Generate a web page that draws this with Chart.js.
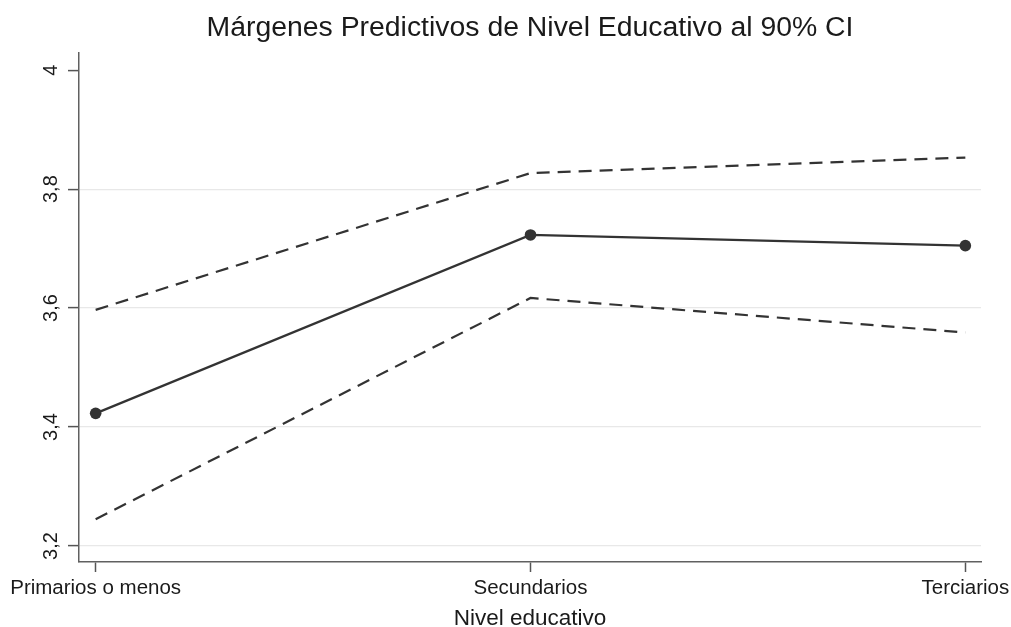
<!DOCTYPE html>
<html><head><meta charset="utf-8">
<script src="https://cdn.jsdelivr.net/npm/chart.js@4"></script>
<style>html,body{margin:0;padding:0;background:#fff}#wrap{width:1011px;height:627px}</style>
</head><body><div id="wrap"><canvas id="c" width="1011" height="627"></canvas></div>
<script>
const categories = ['Primarios o menos', 'Secundarios', 'Terciarios'];
const meanValues = [3.423, 3.723, 3.705];
const upperValues = [3.597, 3.827, 3.853];
const lowerValues = [3.245, 3.617, 3.559];
const yTickValues = [3.2, 3.4, 3.6, 3.8, 4];
const yTickLabels = ['3,2', '3,4', '3,6', '3,8', '4'];
const titleText = 'Márgenes Predictivos de Nivel Educativo al 90% CI';
const xTitleText = 'Nivel educativo';

const FONT = "'Liberation Sans', Arial, sans-serif";
const toPts = arr => arr.map((v, i) => ({x: i, y: v}));
const ink = '#333333';

new Chart(document.getElementById('c'), {
  type: 'line',
  data: {
    datasets: [
      {label: 'Upper', data: toPts(upperValues), borderColor: ink, borderWidth: 2.2, borderDash: [13, 8], pointRadius: 0, tension: 0, fill: false},
      {label: 'Lower', data: toPts(lowerValues), borderColor: ink, borderWidth: 2.2, borderDash: [13, 8], pointRadius: 0, tension: 0, fill: false},
      {label: 'Margin', data: toPts(meanValues), borderColor: ink, borderWidth: 2.2, pointRadius: 5.8, pointBackgroundColor: ink, pointBorderColor: ink, pointBorderWidth: 0, tension: 0, fill: false}
    ]
  },
  options: {
    responsive: false,
    animation: false,
    devicePixelRatio: 1,
    layout: {padding: {left: 0, right: 30, top: 0, bottom: 0}},
    plugins: {
      legend: {display: false},
      tooltip: {enabled: false},
      title: {
        display: true, text: titleText, fullSize: false, color: '#1a1a1a',
        font: {family: FONT, size: 28.4, weight: 'normal', lineHeight: 1.2},
        padding: {top: 11.2, bottom: 7.7}
      }
    },
    scales: {
      x: {
        type: 'linear', min: -0.0383, max: 2.036,
        afterBuildTicks: s => { s.ticks = categories.map((c, i) => ({value: i})); },
        afterFit: s => { s.height = 65; s.paddingLeft = 0; s.paddingRight = 0; },
        grid: {drawOnChartArea: false, tickLength: 10, tickColor: '#555', tickWidth: 1.5},
        border: {display: true, color: '#606060', width: 1.5},
        ticks: {autoSkip: false, maxRotation: 0, minRotation: 0, padding: 4, color: '#1a1a1a',
          font: {family: FONT, size: 20.5}, callback: v => categories[v]},
        title: {display: true, text: xTitleText, color: '#1a1a1a', font: {family: FONT, size: 22.5, lineHeight: 1}, padding: {top: 0, bottom: -3.25}}
      },
      y: {
        min: 3.1731, max: 4.0289,
        afterBuildTicks: s => { s.ticks = yTickValues.map(v => ({value: v})); },
        afterFit: s => { s.width = 79; s.paddingTop = 0; s.paddingBottom = 0; },
        grid: {color: c => (c.tick && c.tick.value === 4) ? 'rgba(0,0,0,0)' : '#e8e8e8', lineWidth: 1.2, tickLength: 11, tickColor: '#555', tickWidth: 1.5},
        border: {display: true, color: '#606060', width: 1.5},
        ticks: {minRotation: 90, maxRotation: 90, crossAlign: 'center', padding: 2.5, color: '#1a1a1a',
          font: {family: FONT, size: 20},
          callback: v => { const i = yTickValues.indexOf(v); return i >= 0 ? yTickLabels[i] : ''; }}
      }
    }
  }
});
</script>
</body></html>
